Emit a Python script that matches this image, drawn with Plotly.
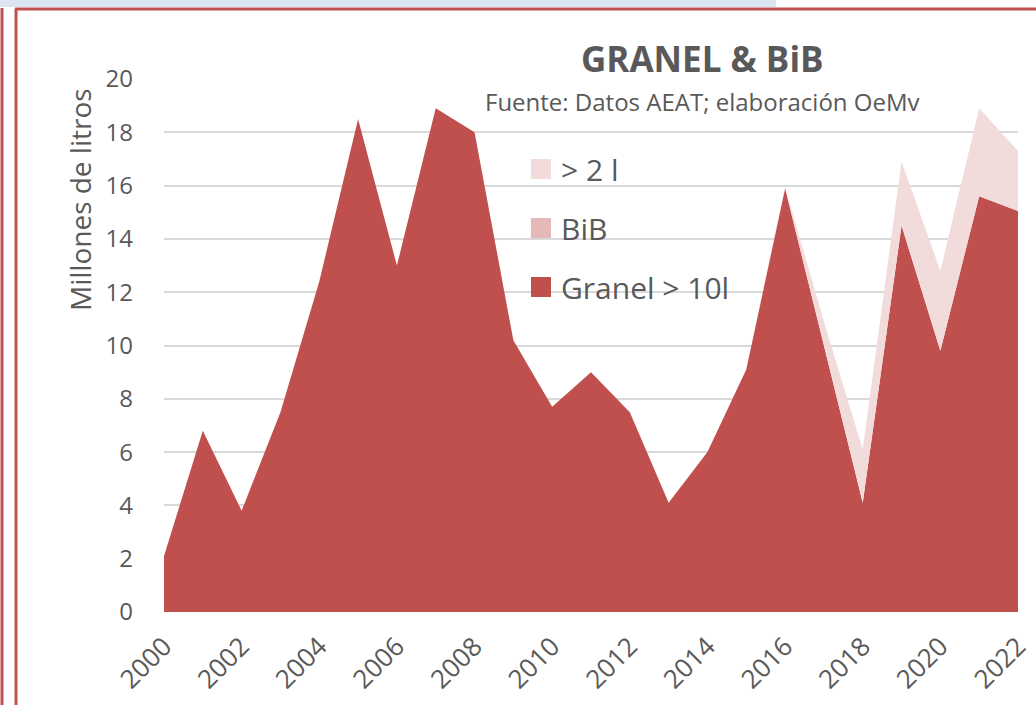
import plotly.graph_objects as go

years = list(range(2000, 2023))
granel = [2.1, 6.8, 3.8, 7.5, 12.4, 18.5, 13.0, 18.9, 18.0, 10.2, 7.7, 9.0, 7.5,
          4.1, 6.0, 9.1, 15.9, 10.0, 4.1, 14.5, 9.8, 15.6, 15.05]
bib = [0.0] * 23
mas2l = [0.0, 0.0, 0.0, 0.0, 0.0, 0.0, 0.0, 0.0, 0.0, 0.0, 0.0, 0.0, 0.0,
         0.0, 0.0, 0.0, 0.05, 0.9, 2.0, 2.4, 3.0, 3.3, 2.25]
tick_years = list(range(2000, 2023, 2))
y_ticks = list(range(0, 21, 2))

C_GRANEL = "#c0504d"
C_BIB = "#e6b9b8"
C_MAS2 = "#f2dcdb"
TXT = "#595959"
FONT = "Open Sans"

L, R, T, B = 164, 18, 79, 93
W = 1036 - L - R
H = 705 - T - B

def px2x(px):
    return (px - L) / W

def py2y(py):
    return (705 - B - py) / H

fig = go.Figure()
series = [("Granel > 10l", granel, C_GRANEL), ("BiB", bib, C_BIB), ("> 2 l", mas2l, C_MAS2)]
for name, vals, col in series:
    fig.add_trace(go.Scatter(x=years, y=vals, name=name, stackgroup="one",
                             mode="none", fillcolor=col, showlegend=False,
                             hoverinfo="x+y+name"))
# legend entries (square markers), top to bottom: > 2 l, BiB, Granel
for i, (name, vals, col) in enumerate(reversed(series)):
    fig.add_trace(go.Scatter(x=[None], y=[None], name=name, mode="markers",
                             marker=dict(symbol="square", size=16, color=col,
                                         line=dict(color=col, width=4)),
                             legendgroup=f"g{i}", showlegend=True))

fig.update_layout(
    width=1036, height=705,
    paper_bgcolor="white", plot_bgcolor="white",
    margin=dict(l=L, r=R, t=T, b=B, autoexpand=False),
    font=dict(family=FONT, color=TXT, size=24),
    showlegend=True,
    legend=dict(x=px2x(521), y=py2y(143), xanchor="left", yanchor="top",
                traceorder="grouped", tracegroupgap=17,
                font=dict(size=30, color=TXT), bgcolor="rgba(0,0,0,0)",
                itemwidth=30),
    xaxis=dict(range=[2000, 2022], tickvals=tick_years, tickangle=-45,
               showgrid=False, zeroline=False, showline=False, automargin=False,
               tickfont=dict(size=26, color=TXT), ticks="", ticklabelstandoff=13),
    yaxis=dict(range=[0, 20], tickvals=y_ticks, showgrid=True, automargin=False,
               gridcolor="#d9d9d9", gridwidth=2, zeroline=False,
               tickfont=dict(size=24, color=TXT), ticklabelstandoff=30),
    annotations=[
        dict(text="<b>GRANEL & BiB</b>", x=px2x(702), y=py2y(58),
             xref="paper", yref="paper", xanchor="center", yanchor="middle",
             showarrow=False, font=dict(size=35, color=TXT)),
        dict(text="Fuente: Datos AEAT; elaboración OeMv", x=px2x(702), y=py2y(101),
             xref="paper", yref="paper", xanchor="center", yanchor="middle",
             showarrow=False, font=dict(size=24, color=TXT)),
        dict(text="Millones de litros", x=px2x(80), y=py2y(200), textangle=-90,
             xref="paper", yref="paper", xanchor="center", yanchor="middle",
             showarrow=False, font=dict(size=28, color=TXT)),
    ],
)

shapes = [
    dict(type="line", xref="x", yref="y", x0=2000, x1=2022, y0=0, y1=0,
         line=dict(color="#d9d9d9", width=2), layer="below"),
    dict(type="rect", xref="paper", yref="paper", x0=px2x(0), x1=px2x(776),
         y0=py2y(7), y1=py2y(0), fillcolor="#dce6f2", line=dict(width=0)),
    dict(type="line", xref="paper", yref="paper", x0=px2x(15), x1=px2x(1036),
         y0=py2y(9), y1=py2y(9), line=dict(color="#c0504d", width=3)),
    dict(type="line", xref="paper", yref="paper", x0=px2x(2), x1=px2x(2),
         y0=py2y(8), y1=py2y(705), line=dict(color="#c0504d", width=3)),
    dict(type="line", xref="paper", yref="paper", x0=px2x(16), x1=px2x(16),
         y0=py2y(9), y1=py2y(705), line=dict(color="#c0504d", width=3)),
]
fig.update_layout(shapes=shapes)

fig.write_html("out.html", config={"displayModeBar": False},
               post_script="document.body.style.margin='0px';document.body.style.padding='0px';")
